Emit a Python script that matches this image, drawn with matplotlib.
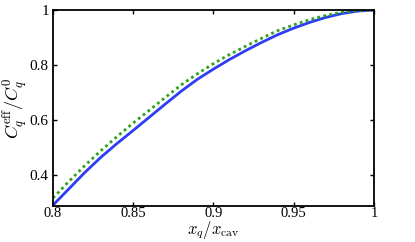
import matplotlib
matplotlib.use('Agg')
import matplotlib.pyplot as plt

# values
x_ratio = [0.80, 0.81, 0.82, 0.83, 0.84, 0.85, 0.86, 0.87, 0.88, 0.89, 0.90,
           0.91, 0.92, 0.93, 0.94, 0.95, 0.96, 0.97, 0.98, 0.99, 1.00]
c_blue = [0.29, 0.35, 0.41, 0.465, 0.515, 0.562, 0.61, 0.658, 0.705, 0.748, 0.785,
          0.82, 0.852, 0.882, 0.91, 0.934, 0.955, 0.973, 0.987, 0.996, 1.0]
c_green = [0.316, 0.377, 0.435, 0.489, 0.54, 0.589, 0.635, 0.682, 0.728, 0.768, 0.805,
           0.838, 0.868, 0.897, 0.925, 0.946, 0.965, 0.98, 0.992, 0.998, 1.0]

x_ticks = [0.8, 0.85, 0.9, 0.95, 1.0]
x_ticklabels = ['0.8', '0.85', '0.9', '0.95', '1']
y_ticks = [0.4, 0.6, 0.8, 1.0]
y_ticklabels = ['0.4', '0.6', '0.8', '1']

plt.rcParams['font.family'] = 'Liberation Serif'
plt.rcParams['mathtext.fontset'] = 'cm'

fig = plt.figure(figsize=(4.15, 2.42), dpi=100)
ax = fig.add_axes([0.1277, 0.1488, 0.7735, 0.81])

ax.plot(x_ratio, c_blue, '-', color='#2e3df5', lw=2.0)
ax.plot(x_ratio, c_green, color='#2ca31a', lw=2.0, linestyle=(0, (1, 1.2)))

ax.set_xlim(0.8, 1.0)
ax.set_ylim(0.287, 1.0)
ax.set_xticks(x_ticks)
ax.set_xticklabels(x_ticklabels)
ax.set_yticks(y_ticks)
ax.set_yticklabels(y_ticklabels)
ax.tick_params(direction='in', top=True, right=True, labelsize=11, length=3, width=1, pad=3)
ax.tick_params(axis='x', labelsize=10.5, pad=1)
for s in ax.spines.values():
    s.set_linewidth(1.3)

ax.set_xlabel(r'$x_q/x_{\rm cav}$', fontsize=12, labelpad=-1)
ax.set_ylabel(r'$C_q^{\rm eff}/C_q^0$', fontsize=13, labelpad=0)

fig.savefig('out.png', dpi=100)
